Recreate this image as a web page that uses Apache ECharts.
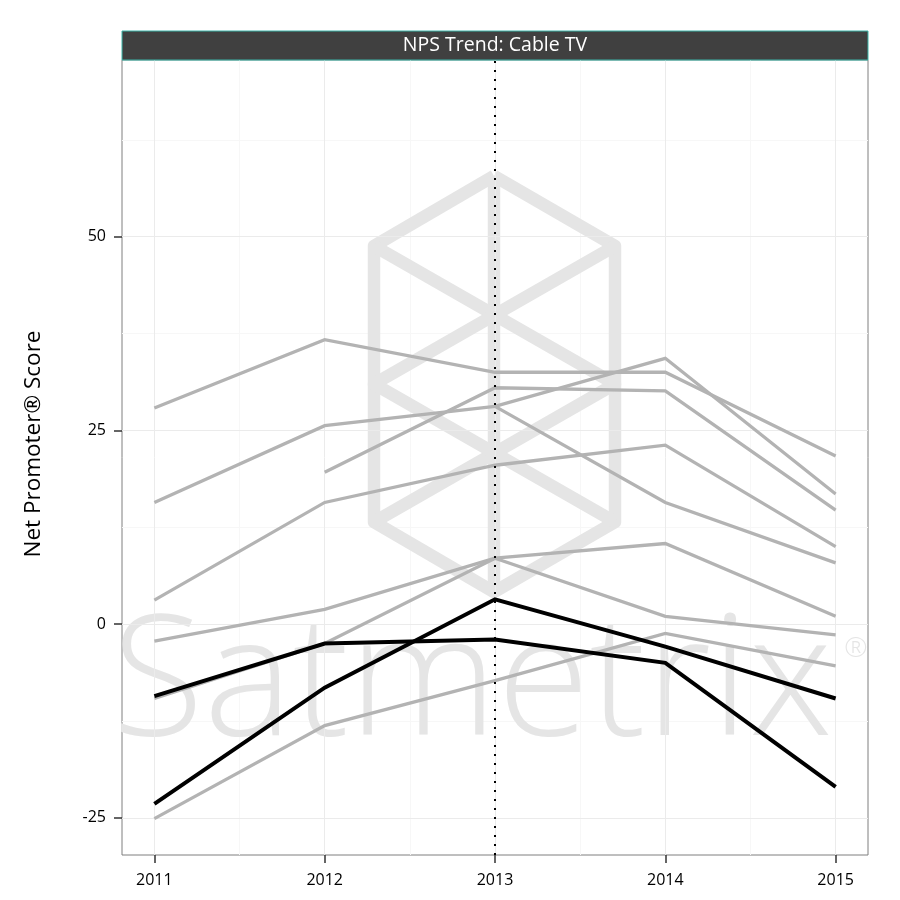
<!DOCTYPE html>
<html>
<head>
<meta charset="utf-8">
<script src="https://cdn.jsdelivr.net/npm/echarts@6/dist/echarts.min.js"></script>
<style>html,body{margin:0;padding:0;background:#fff;}#chart{width:900px;height:900px;}</style>
</head>
<body>
<div id="chart"></div>
<script>
// ---- data ----
const years = [2011, 2012, 2013, 2014, 2015];
const xTicks = [2011, 2012, 2013, 2014, 2015];
const xMinorTicks = [2011.5, 2012.5, 2013.5, 2014.5];
const yTicks = [-25, 0, 25, 50];
const yMinorTicks = [-12.5, 12.5, 37.5, 62.5];
const highlightYear = 2013;
const chartTitle = 'NPS Trend: Cable TV';
const yAxisTitle = 'Net Promoter® Score';

// other providers (grey)
const greyA = [27.9, 36.7, 32.5, 32.5, 21.7];
const greyB = [15.7, 25.6, 28.1, 34.3, 16.8];
const greyC = [null, 19.6, 30.5, 30.1, 14.7];
const greyD = [3.1, 15.7, 20.5, 23.1, 10.0];
const greyE = [null, null, 28.1, 15.7, 7.9];
const greyF = [-2.2, 1.9, 8.5, 10.4, 1.0];
const greyG = [-9.6, -2.5, 8.5, 1.0, -1.4];
const greyH = [-25.1, -13.1, -7.3, -1.2, -5.4];
// highlighted providers (black)
const blackA = [-9.3, -2.5, -2.0, -5.0, -21.0];
const blackB = [-23.2, -8.2, 3.2, -2.9, -9.6];

const greySeries = [greyA, greyB, greyC, greyD, greyE, greyF, greyG, greyH];
const blackSeries = [blackA, blackB];

function toPairs(vals) {
  return years.map((y, i) => [y, vals[i]]).filter(p => p[1] !== null);
}

const series = [];
greySeries.forEach((vals, i) => {
  series.push({
    type: 'line', name: 'grey' + i, data: toPairs(vals),
    symbol: 'none', xAxisIndex: 0, yAxisIndex: 0, z: 3,
    lineStyle: { color: '#b3b3b3', width: 3.3, cap: 'butt', join: 'miter' },
    silent: true
  });
});
blackSeries.forEach((vals, i) => {
  series.push({
    type: 'line', name: 'black' + i, data: toPairs(vals),
    symbol: 'none', xAxisIndex: 0, yAxisIndex: 0, z: 5,
    lineStyle: { color: '#000000', width: 4, cap: 'butt', join: 'miter' },
    silent: true
  });
});
// dotted reference line
series.push({
  type: 'line', data: [], xAxisIndex: 0, yAxisIndex: 0, z: 6,
  markLine: {
    silent: true, symbol: 'none', animation: false,
    label: { show: false },
    lineStyle: { color: '#000', width: 2, type: [2, 7], cap: 'butt' },
    data: [{ xAxis: highlightYear }]
  }
});

const chart = echarts.init(document.getElementById('chart'), null, { renderer: 'canvas' });

const X0 = 122, X1 = 868, Y0 = 60, Y1 = 855;
const wm = '#e5e5e5';
const hexPts = [[494,176],[615,246],[615,522],[494,592],[374,522],[374,246],[494,176]];

chart.setOption({
  animation: false,
  backgroundColor: '#ffffff',
  grid: [
    { left: X0, right: 900 - X1, top: Y0, bottom: 900 - Y1, show: true,
      backgroundColor: '#ffffff', borderColor: '#7f7f7f', borderWidth: 1, containLabel: false }
  ],
  xAxis: [
    {
      type: 'value', min: 2010.81, max: 2015.19, gridIndex: 0, position: 'bottom',
      axisLine: { show: false, onZero: false },
      axisTick: { show: true, length: 8, customValues: xTicks, lineStyle: { color: '#333333', width: 1.5 } },
      axisLabel: { customValues: xTicks, margin: 17, fontFamily: 'Open Sans', fontSize: 16, color: '#000',
        formatter: v => String(v) },
      splitLine: { show: true, lineStyle: { color: '#ebebeb', width: 1 } },
      z: 1
    },
    {
      type: 'value', min: 2010.81, max: 2015.19, gridIndex: 0, position: 'bottom',
      axisLine: { show: false, onZero: false },
      axisTick: { show: false, customValues: xMinorTicks },
      axisLabel: { show: false, customValues: xMinorTicks },
      splitLine: { show: true, lineStyle: { color: '#f7f7f7', width: 1 } },
      z: 0
    }
  ],
  yAxis: [
    {
      type: 'value', min: -29.8, max: 72.8, gridIndex: 0, position: 'left',
      axisLine: { show: false, onZero: false },
      axisTick: { show: true, length: 8, customValues: yTicks, lineStyle: { color: '#333333', width: 1.5 } },
      axisLabel: { customValues: yTicks, margin: 16, fontFamily: 'Open Sans', fontSize: 16, color: '#000',
        formatter: v => String(v) },
      splitLine: { show: true, lineStyle: { color: '#ebebeb', width: 1 } },
      z: 1
    },
    {
      type: 'value', min: -29.8, max: 72.8, gridIndex: 0, position: 'left',
      axisLine: { show: false, onZero: false },
      axisTick: { show: false, customValues: yMinorTicks },
      axisLabel: { show: false, customValues: yMinorTicks },
      splitLine: { show: true, lineStyle: { color: '#f7f7f7', width: 1 } },
      z: 0
    }
  ],
  graphic: [
    // watermark logo
    { type: 'polyline', z: 1, silent: true, shape: { points: hexPts },
      style: { fill: null, stroke: wm, lineWidth: 12.5, lineJoin: 'round' } },
    { type: 'polyline', z: 1, silent: true, shape: { points: [[494,176],[494,592]] },
      style: { fill: null, stroke: wm, lineWidth: 12.5 } },
    { type: 'polyline', z: 1, silent: true, shape: { points: [[374,246],[615,384],[374,522]] },
      style: { fill: null, stroke: wm, lineWidth: 12.5, lineJoin: 'round' } },
    { type: 'polyline', z: 1, silent: true, shape: { points: [[615,246],[374,384],[615,522]] },
      style: { fill: null, stroke: wm, lineWidth: 12.5, lineJoin: 'round' } },
    { type: 'text', z: 1, silent: true, x: 112, y: 771,
      style: { text: 'Satmetrix', fill: wm, font: '300 168px "Open Sans"', textAlign: 'left', textVerticalAlign: 'bottom' } },
    { type: 'text', z: 1, silent: true, x: 856, y: 649,
      style: { text: '®', fill: wm, font: '300 28px "Open Sans"', textAlign: 'center', textVerticalAlign: 'middle' } },
    // y axis title
    { type: 'text', z: 11, silent: true, x: 34, y: 444, rotation: Math.PI / 2,
      style: { text: yAxisTitle, fill: '#000', font: '22.5px "Open Sans"', textAlign: 'center', textVerticalAlign: 'middle' } },
    // title strip
    { type: 'rect', z: 10, silent: true, shape: { x: 122, y: 31, width: 746, height: 29 },
      style: { fill: '#404040', stroke: '#3ab5a8', lineWidth: 1 } },
    { type: 'text', z: 11, silent: true, x: 495, y: 45.5,
      style: { text: chartTitle, fill: '#ffffff', font: '19.5px "Open Sans"', textAlign: 'center', textVerticalAlign: 'middle' } }
  ],
  series: series
});
</script>
</body>
</html>
